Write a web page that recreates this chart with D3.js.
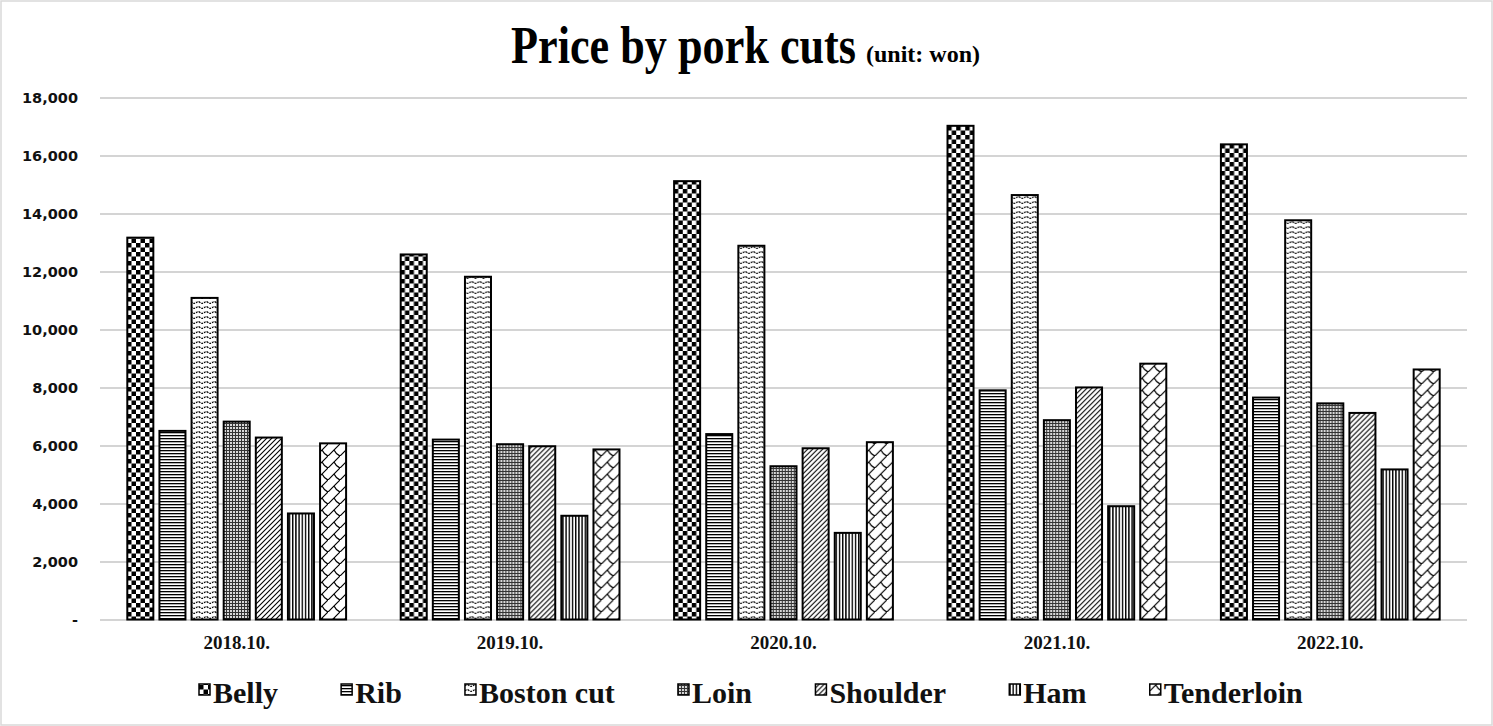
<!DOCTYPE html>
<html>
<head>
<meta charset="utf-8">
<style>
  body { margin: 0; background: #fff; }
  .grid line { stroke: #d4d4d4; stroke-width: 2; shape-rendering: crispEdges; }
  .ylab { font-family: "DejaVu Sans", sans-serif; font-weight: bold; font-size: 14.5px; fill: #111; }
  .xlab { font-family: "Liberation Serif", serif; font-weight: bold; font-size: 19px; fill: #111; }
  .leg { font-family: "Liberation Serif", serif; font-weight: bold; font-size: 30px; fill: #111; }
  .title { font-family: "Liberation Serif", serif; font-weight: bold; fill: #000; }
  .bar { stroke: #000; stroke-width: 2; }
</style>
</head>
<body>
<svg width="1493" height="726"></svg>
<script src="https://d3js.org/d3.v7.min.js"></script>
<script>
var categories = ["2018.10.", "2019.10.", "2020.10.", "2021.10.", "2022.10."];
var seriesNames = ["Belly", "Rib", "Boston cut", "Loin", "Shoulder", "Ham", "Tenderloin"];

var belly      = [13180, 12600, 15130, 17040, 16400];
var rib        = [6510, 6210, 6400, 7910, 7660];
var bostonCut  = [11100, 11830, 12900, 14650, 13780];
var loin       = [6830, 6050, 5290, 6880, 7460];
var shoulder   = [6280, 5980, 5910, 8010, 7130];
var ham        = [3660, 3580, 2990, 3910, 5180];
var tenderloin = [6080, 5870, 6120, 8830, 8630];

var yTicks = [0, 2000, 4000, 6000, 8000, 10000, 12000, 14000, 16000, 18000];

var seriesValues = [belly, rib, bostonCut, loin, shoulder, ham, tenderloin];
var patternIds = ["pBelly", "pRib", "pBoston", "pLoin", "pShoulder", "pHam", "pTender"];

var W = 1493, H = 726;
var svg = d3.select("svg");

// outer frame
svg.append("rect")
  .attr("x", 1).attr("y", 1).attr("width", W - 2).attr("height", H - 2)
  .attr("fill", "#fff").attr("stroke", "#d9d9d9").attr("stroke-width", 1.5);

// ---- patterns (excel-like pattern fills)
var defs = svg.append("defs");
function pat(id, w, h) {
  var p = defs.append("pattern").attr("id", id)
    .attr("patternUnits", "userSpaceOnUse").attr("width", w).attr("height", h);
  p.append("rect").attr("width", w).attr("height", h).attr("fill", "#fff");
  return p;
}
// large checker
var p = pat("pBelly", 9, 9);
p.append("rect").attr("width", 4.5).attr("height", 4.5).attr("fill", "#000");
p.append("rect").attr("x", 4.5).attr("y", 4.5).attr("width", 4.5).attr("height", 4.5).attr("fill", "#000");
// horizontal lines
p = pat("pRib", 4, 3);
p.append("rect").attr("y", 0).attr("width", 4).attr("height", 1.3).attr("fill", "#000");
// wave
p = pat("pBoston", 8, 5);
p.append("path").attr("d", "M0,3 Q2,0.5 4,2.5 T8,2").attr("fill", "none").attr("stroke", "#000").attr("stroke-width", 1.1)
  .attr("stroke-dasharray", "2,1");
// dotted grid
p = pat("pLoin", 3, 3);
p.append("rect").attr("width", 3).attr("height", 1).attr("fill", "#333");
p.append("rect").attr("width", 1).attr("height", 3).attr("fill", "#333");
p.append("rect").attr("x", 1.5).attr("y", 1.5).attr("width", 1).attr("height", 1).attr("fill", "#666");
// upward diagonal
p = pat("pShoulder", 5, 5);
p.append("path").attr("d", "M-1,6 L6,-1 M-1,1 L1,-1 M4,6 L6,4").attr("stroke", "#000").attr("stroke-width", 1.1);
// vertical lines
p = pat("pHam", 3.2, 4);
p.append("rect").attr("width", 1.4).attr("height", 4).attr("fill", "#000");
// shingle
p = pat("pTender", 12, 12);
p.append("path").attr("d", "M-1,13 L13,-1 M6,6 Q8,10 12,12")
  .attr("fill", "none").attr("stroke", "#000").attr("stroke-width", 1.2);

// ---- scales
var plot = { left: 100, right: 1467, top: 98, bottom: 619.5 };

var x0 = d3.scaleBand().domain(categories).range([plot.left, plot.right]).padding(0);
var x1 = d3.scaleBand().domain(seriesNames).range([0, x0.bandwidth()])
  .paddingInner(0.19).paddingOuter(0.85);
var y = d3.scaleLinear().domain([0, 18000]).range([plot.bottom, plot.top]);

// gridlines
svg.append("g").attr("class", "grid")
  .selectAll("line").data(yTicks).enter().append("line")
  .attr("x1", plot.left).attr("x2", plot.right)
  .attr("y1", function(d) { return Math.round(y(d)); })
  .attr("y2", function(d) { return Math.round(y(d)); });

// y labels
svg.append("g").selectAll("text").data(yTicks).enter().append("text")
  .attr("class", "ylab")
  .attr("x", 78).attr("y", function(d) { return y(d); })
  .attr("dy", "0.36em").attr("text-anchor", "end")
  .text(function(d) { return d === 0 ? "-" : d3.format(",")(d); });

// bars
var groups = svg.append("g").selectAll("g").data(categories).enter().append("g")
  .attr("transform", function(d) { return "translate(" + x0(d) + ",0)"; });

groups.selectAll("rect")
  .data(function(c, ci) {
    return seriesNames.map(function(s, si) { return { s: s, si: si, v: seriesValues[si][ci] }; });
  })
  .enter().append("rect")
  .attr("class", "bar")
  .attr("x", function(d) { return x1(d.s); })
  .attr("width", x1.bandwidth())
  .attr("y", function(d) { return y(d.v); })
  .attr("height", function(d) { return y(0) - y(d.v); })
  .attr("fill", function(d) { return "url(#" + patternIds[d.si] + ")"; });

// category labels
svg.append("g").selectAll("text").data(categories).enter().append("text")
  .attr("class", "xlab")
  .attr("x", function(d) { return x0(d) + x0.bandwidth() / 2; })
  .attr("y", 649)
  .attr("text-anchor", "middle")
  .text(function(d) { return d; });

// title
svg.append("text").attr("class", "title")
  .attr("text-anchor", "end")
  .attr("font-size", "52px")
  .attr("transform", "translate(856,63) scale(0.85,1)")
  .text("Price by pork cuts");
svg.append("text").attr("class", "title")
  .attr("x", 866).attr("y", 62)
  .attr("font-size", "24px")
  .text("(unit: won)");

// legend
var legend = svg.append("g");
var items = legend.selectAll("g").data(seriesNames).enter().append("g");
items.append("rect")
  .attr("x", 0).attr("y", -19).attr("width", 11).attr("height", 11)
  .attr("stroke", "#000").attr("stroke-width", 1.5)
  .attr("fill", function(d, i) { return "url(#" + patternIds[i] + ")"; });
items.append("text").attr("class", "leg")
  .attr("x", 14).attr("y", 0).text(function(d) { return d; });

var span = 1104, widths = [];
items.each(function() { widths.push(this.getBBox().width); });
var gap = (span - d3.sum(widths)) / (widths.length - 1);
var pos = 199;
items.attr("transform", function(d, i) {
  var t = "translate(" + pos + ",703)";
  pos += widths[i] + gap;
  return t;
});
</script>
</body>
</html>
